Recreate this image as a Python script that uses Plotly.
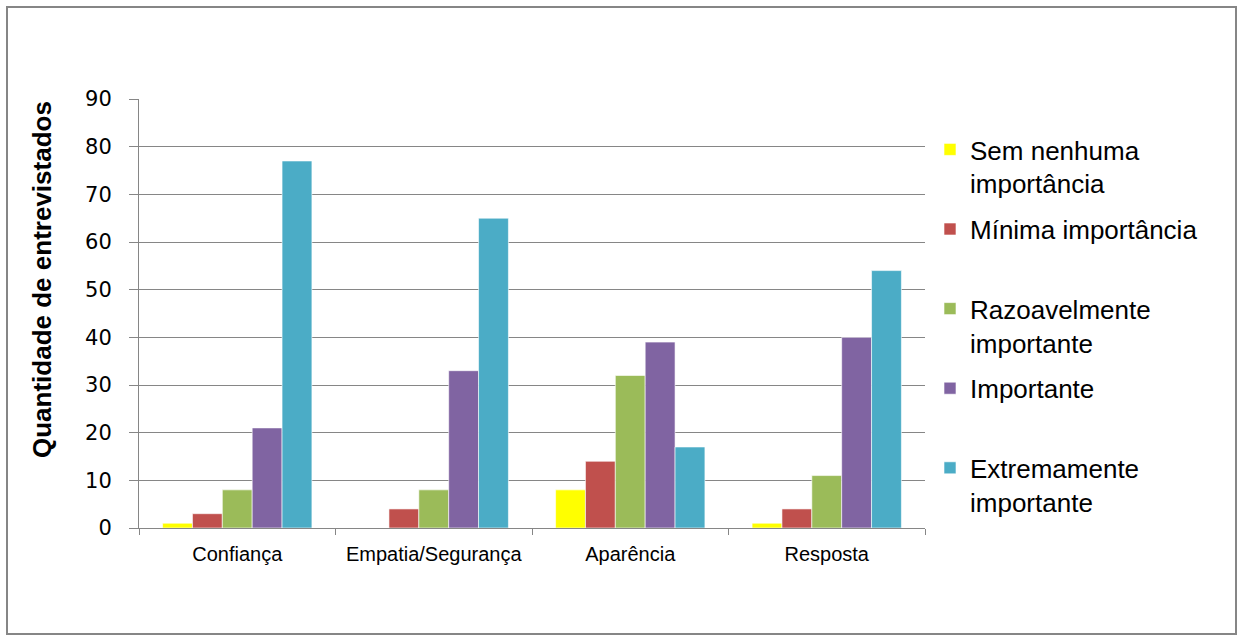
import plotly.graph_objects as go

# Survey results: number of respondents per importance level for each attribute
categories = ["Confiança", "Empatia/Segurança", "Aparência", "Resposta"]

series_names = [
    "Sem nenhuma<br>importância",
    "Mínima importância<br> ",
    "Razoavelmente<br>importante",
    "Importante<br> ",
    "Extremamente<br>importante",
]
sem_nenhuma = [1, 0, 8, 1]
minima = [3, 4, 14, 4]
razoavelmente = [8, 8, 32, 11]
importante = [21, 33, 39, 40]
extremamente = [77, 65, 17, 54]

series_values = [sem_nenhuma, minima, razoavelmente, importante, extremamente]
series_colors = ["#FFFF00", "#C0504D", "#9BBB59", "#8064A2", "#4BACC6"]

y_ticks = [0, 10, 20, 30, 40, 50, 60, 70, 80, 90]
y_title = "Quantidade de entrevistados"

W, H = 1240, 637
ML, MR, MT, MB = 139, 315, 99, 109
PW, PH = W - ML - MR, H - MT - MB


def px_x(p):
    return (p - ML) / PW


def px_y(p):
    return (H - MB - p) / PH


fig = go.Figure()
for name, vals, color in zip(series_names, series_values, series_colors):
    fig.add_trace(go.Bar(
        x=categories,
        y=vals,
        name=name,
        legendgroup=name,
        marker=dict(color=color, line=dict(color="white", width=0.6)),
    ))

grid_color = "#868686"

fig.update_layout(
    width=W,
    height=H,
    margin=dict(l=ML, r=MR, t=MT, b=MB),
    paper_bgcolor="white",
    plot_bgcolor="white",
    barmode="group",
    bargap=0.24,
    bargroupgap=0,
    font=dict(family="Liberation Sans, Arial, sans-serif", color="#000000"),
    showlegend=True,
    legend=dict(
        x=px_x(930),
        y=px_y(126),
        xanchor="left",
        yanchor="top",
        valign="top",
        tracegroupgap=9,
        font=dict(size=26, family="Liberation Sans, Arial, sans-serif"),
        bgcolor="rgba(0,0,0,0)",
        itemclick=False,
        itemdoubleclick=False,
    ),
    xaxis=dict(
        showline=True,
        linecolor=grid_color,
        linewidth=1,
        ticks="outside",
        tickson="boundaries",
        ticklen=6,
        tickcolor=grid_color,
        ticklabelstandoff=8,
        tickfont=dict(size=20, family="Liberation Sans, Arial, sans-serif"),
        showgrid=False,
        fixedrange=True,
    ),
    yaxis=dict(
        range=[0, 90],
        tickvals=y_ticks,
        showline=True,
        linecolor=grid_color,
        linewidth=1,
        ticks="outside",
        ticklen=9,
        tickcolor=grid_color,
        ticklabelstandoff=13,
        tickfont=dict(size=21, family="DejaVu Sans, Verdana, sans-serif"),
        showgrid=True,
        gridcolor=grid_color,
        gridwidth=1,
        zeroline=False,
        fixedrange=True,
    ),
    annotations=[
        dict(
            text="<b>" + y_title + "</b>",
            xref="paper",
            yref="paper",
            x=px_x(42),
            y=px_y(280),
            xanchor="center",
            yanchor="middle",
            textangle=-90,
            showarrow=False,
            font=dict(size=26, family="Liberation Sans, Arial, sans-serif"),
        )
    ],
    shapes=[
        dict(
            type="rect",
            xref="paper",
            yref="paper",
            x0=px_x(7),
            x1=px_x(1236),
            y0=px_y(634),
            y1=px_y(7),
            line=dict(color="#868686", width=2),
            fillcolor="rgba(0,0,0,0)",
            layer="below",
        )
    ],
)

fig.write_html("out.html")
